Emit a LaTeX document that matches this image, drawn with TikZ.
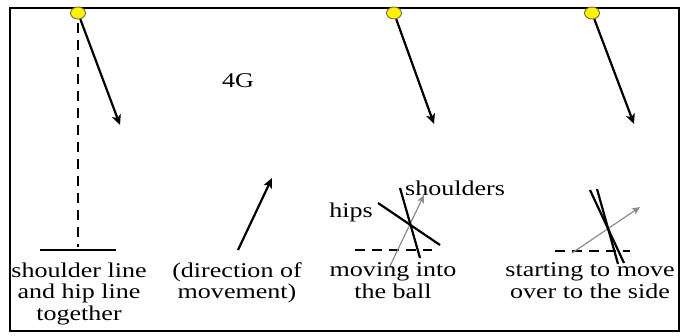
\documentclass[tikz,border=0pt]{standalone}
\usepackage{fontspec}
\setmainfont[FakeStretch=1.24]{Liberation Serif}
\usepackage{xcolor}
\usetikzlibrary{arrows.meta, shapes.geometric, positioning}

\begin{document}
\begin{tikzpicture}[x=1pt, y=-1pt, >={Stealth[length=10pt, width=9pt, inset=2.5pt]},
    ball/.style={ellipse, draw=black!65!yellow, fill=yellow, line width=0.9pt,
        minimum width=15pt, minimum height=12pt, inner sep=0pt},
    lbl/.style={font=\fontsize{21}{21.5}\selectfont, align=center, inner sep=0pt},
    word/.style={font=\fontsize{21}{21.5}\selectfont, inner sep=0pt},
    pull/.style={->, line width=2.2pt},
    turn/.style={-{Stealth[length=8pt, width=7pt, inset=2pt]}, black!45, line width=1.2pt},
    body/.style={line width=2.2pt},
    floor/.style={line width=2.2pt, dash pattern=on 10pt off 7pt}]
    \useasboundingbox (0,0) rectangle (684,335);
    % Rahmen
    \draw[line width=2.6pt] (10,8) rectangle (679,331);

    % Bälle und Zugrichtung
    \node[ball] (ball1) at (78,13) {};
    \node[ball] (ball2) at (394,13) {};
    \node[ball] (ball3) at (592,13) {};
    \coordinate (tip1) at (120,125);
    \coordinate (tip2) at (434,124);
    \coordinate (tip3) at (634,124);
    \draw[pull] (ball1) -- (tip1);
    \draw[pull] (ball2) -- (tip2);
    \draw[pull] (ball3) -- (tip3);

    % Bild 1
    \coordinate (foot1) at (78,247);
    \coordinate (lineL) at (40,250);
    \coordinate (lineR) at (116,250);
    \draw[floor] ([yshift=-4pt]ball1.south) -- (foot1);
    \draw[body] (lineL) -- (lineR);
    \node[lbl, anchor=north] (cap1) at (79,262.5) {shoulder line\\and hip line\\together};

    % Bild 2
    \node[word, anchor=base] (tag) at (238,87) {4G};
    \coordinate (dirA) at (238,250);
    \coordinate (dirB) at (272,178);
    \draw[pull] (dirA) -- (dirB);
    \node[lbl, anchor=north] (cap2) at (237,262.5) {(direction of\\movement)};

    % Bild 3
    \coordinate (flA) at (355,250);
    \coordinate (flB) at (432,250);
    \coordinate (hipA) at (378,203);
    \coordinate (hipB) at (440,245);
    \coordinate (shA) at (400,188);
    \coordinate (shB) at (420,258);
    \coordinate (mvA) at (390,266);
    \coordinate (mvB) at (424,195);
    \draw[floor] (flA) -- (flB);
    \draw[turn] (mvA) -- (mvB);
    \draw[body] (hipA) -- (hipB);
    \draw[body] (shA) -- (shB);
    \node[word, anchor=base east] (hips) at (373,217) {hips};
    \node[word, anchor=base west] (shoulders) at (405,195) {shoulders};
    \node[lbl, anchor=north] (cap3) at (393,262.5) {moving into\\the ball};

    % Bild 4
    \coordinate (flC) at (555,251);
    \coordinate (flD) at (630,251);
    \coordinate (s4A) at (590,190);
    \coordinate (s4B) at (624,263);
    \coordinate (h4A) at (597,189);
    \coordinate (h4B) at (618,264);
    \coordinate (mvC) at (572,253);
    \coordinate (mvD) at (640,207);
    \draw[floor] (flC) -- (flD);
    \draw[turn] (mvC) -- (mvD);
    \draw[body] (s4A) -- (s4B);
    \draw[body] (h4A) -- (h4B);
    \node[lbl, anchor=north] (cap4) at (590,262.5) {starting to move\\over to the side};
\end{tikzpicture}
\end{document}
